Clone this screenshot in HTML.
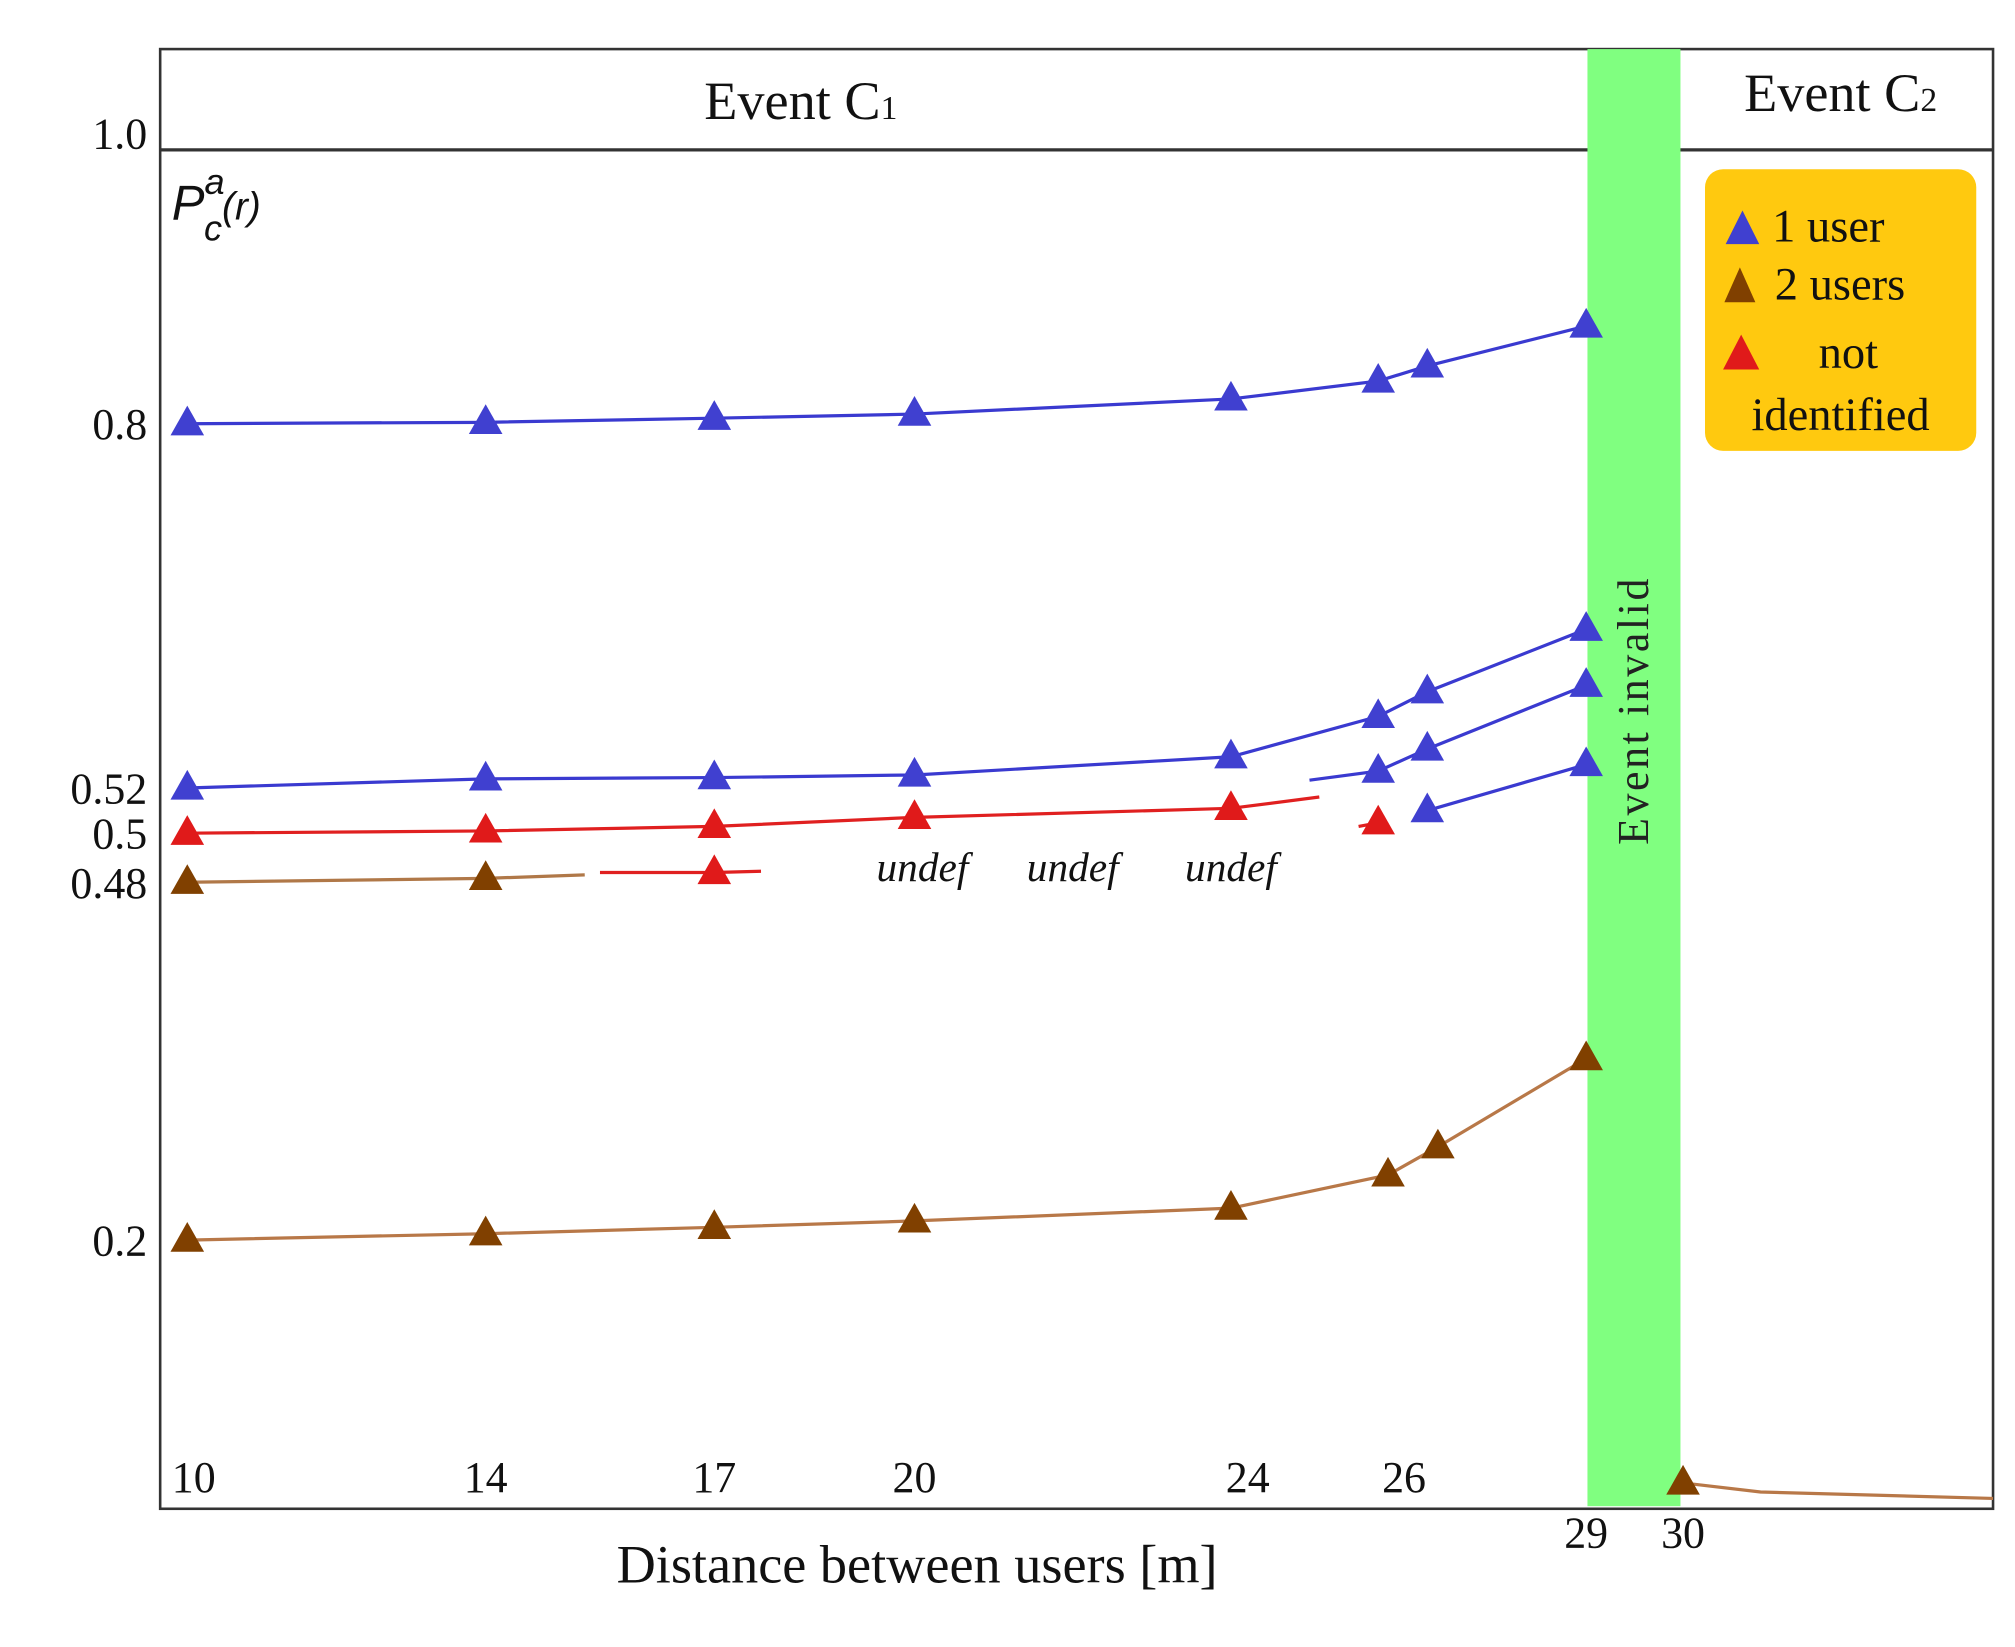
<!DOCTYPE html>
<html><head><meta charset="utf-8"><style>
html,body{margin:0;padding:0;background:#fff}
svg{display:block}
text{font-family:"Liberation Serif",serif}
</style></head><body>
<svg id="chart" width="2015" height="1647" viewBox="0 0 1560 1275" preserveAspectRatio="none" xmlns="http://www.w3.org/2000/svg">
<rect x="0" y="0" width="1560" height="1275" fill="#fff"/>
<g id="frame">
<rect x="124" y="38" width="1419" height="1130" fill="none" stroke="#333" stroke-width="2"/>
<line x1="124" y1="116" x2="1543" y2="116" stroke="#333" stroke-width="2.5"/>
</g>
<rect x="1229" y="38" width="72" height="1128" fill="#80ff80"/>
<text transform="translate(1276,550) rotate(-90)" text-anchor="middle" font-size="34" fill="#222" letter-spacing="2">Event invalid</text>
<text x="620" y="92" text-anchor="middle" font-size="42" fill="#111">Event C<tspan font-size="26">1</tspan></text>
<text x="1425" y="86" text-anchor="middle" font-size="42" fill="#111">Event C<tspan font-size="26">2</tspan></text>
<text x="133" y="170" font-size="38" font-style="italic" fill="#111" style="font-family:'Liberation Sans',sans-serif">P<tspan font-size="28" dy="-20">a</tspan><tspan font-size="28" dx="-16" dy="36">c</tspan><tspan font-size="30" dy="-16">(r)</tspan></text>
<text x="710" y="1225" text-anchor="middle" font-size="42" fill="#111">Distance between users [m]</text>
<g id="yticks"></g>
<g id="xticks"></g>
<g id="series"></g>
<g id="undefs"></g>
<g>
<rect x="1320" y="131" width="210" height="218" rx="14" fill="#ffc90f"/>
<polygon points="1349,163 1336,189 1362,189" fill="#4040d0"/>
<text x="1372" y="187" font-size="36" fill="#111">1  user</text>
<polygon points="1347,207 1335,234 1359,234" fill="#804000"/>
<text x="1374" y="232" font-size="36" fill="#111">2  users</text>
<polygon points="1348,259 1334,286 1362,286" fill="#e01a1a"/>
<text x="1408" y="285" font-size="36" fill="#111">not</text>
<text x="1356" y="333" font-size="36" fill="#111">identified</text>
</g>
</svg>
<script>
const yTickValues=[1.0,0.8,0.52,0.5,0.48,0.2];
const yTickLabels=["1.0","0.8","0.52","0.5","0.48","0.2"];
const xTickValues=[10,14,17,20,24,26,29,30];
const xTickLabels=["10","14","17","20","24","26","29","30"];
const blueTopX=[10,14,17,20,24,25.5,26,29];
const blueTopY=[0.8,0.801,0.804,0.807,0.818,0.831,0.842,0.871];
const blueMidX=[10,14,17,20,24,25.5,26,29];
const blueMidY=[0.52,0.527,0.528,0.530,0.544,0.575,0.594,0.642];
const blueThirdX=[24.8,25.5,26,29];
const blueThirdY=[0.526,0.533,0.550,0.599];
const blueFourthX=[26,29];
const blueFourthY=[0.510,0.538];
const redX=[10,14,17,20,24,24.9];
const redY=[0.5,0.501,0.503,0.507,0.511,0.516];
const redSegX=[25.3,25.5];
const redSegY=[0.503,0.5046];
const redLowX=[15.5,17,17.7];
const redLowY=[0.484,0.484,0.4845];
const brownMidX=[10,14,15.3];
const brownMidY=[0.48,0.4816,0.483];
const brownLowX=[10,14,17,20,24,25.6,26.2,29];
const brownLowY=[0.2,0.205,0.210,0.215,0.225,0.251,0.273,0.342];
const brownC2X=[30,30.5,32];
const brownC2Y=[0.012,0.005,0.0];
const undefX=[20.1,22,24];

const NS="http://www.w3.org/2000/svg";
const yD=[0,0.2,0.48,0.5,0.52,0.8,1.0], yR=[1160,960,683,645,610,328,115];
const xD=[10,14,17,20,24,26,29,30,32], xR=[145,376,553,708,953,1105,1228,1303,1543];
function pw(v,D,R){for(let i=0;i<D.length-1;i++){if(v<=D[i+1]||i===D.length-2){return R[i]+(v-D[i])/(D[i+1]-D[i])*(R[i+1]-R[i]);}}}
const yS=v=>pw(v,yD,yR), xS=v=>pw(v,xD,xR);
function mk(tag,attrs,parent){const e=document.createElementNS(NS,tag);for(const k in attrs)e.setAttribute(k,attrs[k]);document.getElementById(parent).appendChild(e);return e;}

yTickValues.forEach((v,i)=>{
 const t=mk('text',{x:114,y:yS(v)+(v===1.0?0:12),'text-anchor':'end','font-size':34,fill:'#111'},'yticks');
 
 
 t.textContent=yTickLabels[i];
});
xTickValues.forEach((v,i)=>{
 const low=v>=29;
 let x=xS(v);
 if(v===10)x+=5;
 else if(v===24)x+=13;
 else if(v===26)x=xS(25.5)+20;
 const t=mk('text',{x:x,y:low?1198:1155,'text-anchor':'middle','font-size':34,fill:'#111'},'xticks');
 
 
 t.textContent=xTickLabels[i];
});
function line(xs,ys,color,w,name){
 const p=mk('polyline',{points:xs.map((x,i)=>xS(x)+','+yS(ys[i])).join(' '),fill:'none',stroke:color,'stroke-width':w},'series');
 
 
}
function marks(xs,ys,color,name){
 xs.forEach((x,i)=>{
  const cx=xS(x),cy=yS(ys[i]);
  const t=mk('polygon',{points:`${cx},${cy-14} ${cx-13},${cy+9} ${cx+13},${cy+9}`,fill:color},'series');
  
  
 });
}
line(blueTopX,blueTopY,'#3a3ad0',2.5,'blue-top-line');
marks(blueTopX,blueTopY,'#4040d0','blue-top-marker');
line(blueMidX,blueMidY,'#3a3ad0',2.5,'blue-mid-line');
marks(blueMidX,blueMidY,'#4040d0','blue-mid-marker');
line(blueThirdX,blueThirdY,'#3a3ad0',2.5,'blue-third-line');
marks(blueThirdX.slice(1),blueThirdY.slice(1),'#4040d0','blue-third-marker');
line(blueFourthX,blueFourthY,'#3a3ad0',2.5,'blue-fourth-line');
marks(blueFourthX,blueFourthY,'#4040d0','blue-fourth-marker');
line(redX,redY,'#e02020',2.5,'red-line');
marks(redX.slice(0,5),redY.slice(0,5),'#e01a1a','red-marker');
line(redSegX,redSegY,'#e02020',2.5,'red-segment-line');
marks([redSegX[1]],[redSegY[1]],'#e01a1a','red-marker');
line(redLowX,redLowY,'#e02020',2.5,'red-low-line');
marks([redLowX[1]],[redLowY[1]],'#e01a1a','red-low-marker');
line(brownMidX,brownMidY,'#b07848',2.5,'brown-mid-line');
marks(brownMidX.slice(0,2),brownMidY.slice(0,2),'#804000','brown-mid-marker');
line(brownLowX,brownLowY,'#b87848',2.5,'brown-low-line');
marks(brownLowX,brownLowY,'#804000','brown-low-marker');
line(brownC2X,brownC2Y,'#b87848',2.5,'brown-c2-line');
marks([brownC2X[0]],[brownC2Y[0]],'#804000','brown-c2-marker');
undefX.forEach(x=>{
 const t=mk('text',{x:xS(x),y:682,'text-anchor':'middle','font-size':32,'font-style':'italic',fill:'#111'},'undefs');
 
 
 t.textContent='undef';
});
</script>
</body></html>
